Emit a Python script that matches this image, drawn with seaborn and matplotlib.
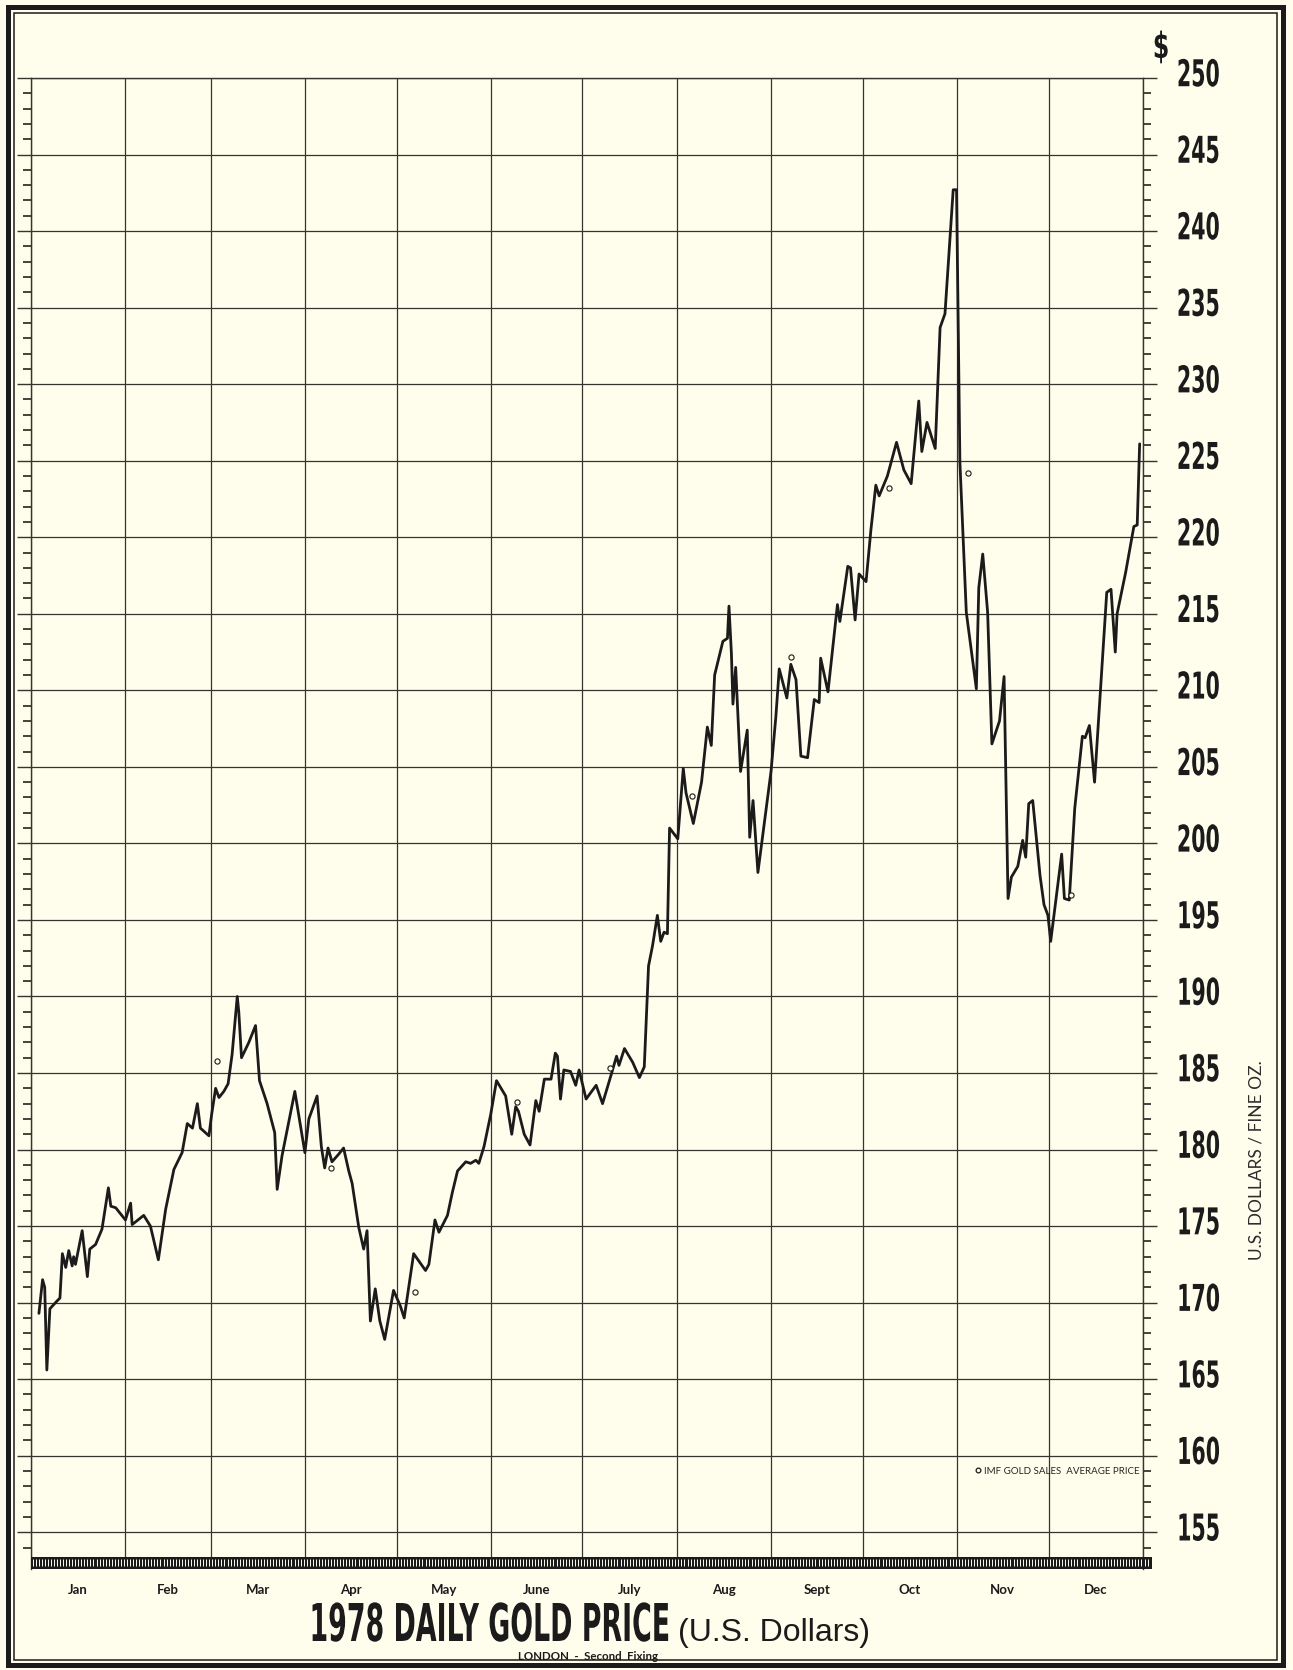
"""1978 daily gold price chart (London second fixing), redrawn with seaborn."""

import numpy as np
import pandas as pd
import matplotlib
matplotlib.use("Agg")
import matplotlib.pyplot as plt
import matplotlib.transforms as mtransforms
from matplotlib.patches import Rectangle
from matplotlib.lines import Line2D
from matplotlib.patheffects import AbstractPathEffect
import seaborn as sns

# ── Data (x = day of year 1978) ─────────────────────────────────────────────
day = [
    2.6, 3.8, 4.5, 5.2, 6.2, 8.5, 9.5, 10.3, 11.4, 12.4, 13.5, 14.0, 14.6,
    16.8, 18.5, 19.3, 21.2, 23.3, 25.4, 26.2, 27.8, 31.0, 32.7, 33.2, 37.0,
    39.2, 41.8, 44.2, 46.9, 49.6, 51.3, 53.0, 54.6, 55.6, 58.4, 59.3, 60.6,
    61.7, 63.3, 64.7, 66.0, 67.7, 68.2, 69.1, 71.5, 73.7, 75.0, 77.5, 80.0,
    80.8, 82.4, 86.6, 89.9, 91.2, 93.9, 95.3, 96.4, 97.5, 98.8, 101.0, 102.6,
    104.3, 105.4, 107.6, 109.2, 110.3, 111.4, 113.0, 114.5, 116.1, 119.0,
    121.2, 122.5, 125.6, 129.5, 130.6, 132.6, 133.9, 136.7, 138.3, 140.0,
    142.7, 144.3, 146.0, 147.0, 148.7, 150.9, 152.8, 155.8, 157.8, 159.1,
    160.0, 161.9, 163.8, 165.7, 166.8, 168.5, 170.7, 172.1, 172.8, 173.8,
    174.9, 177.1, 178.8, 179.9, 182.2, 185.5, 187.6, 190.3, 192.2, 193.0,
    194.8, 197.5, 199.7, 201.3, 202.7, 204.0, 205.6, 206.7, 207.8, 208.9,
    209.6, 212.3, 214.1, 215.0, 217.4, 220.1, 222.0, 223.3, 224.4, 227.1,
    228.6, 229.1, 229.9, 230.4, 231.3, 232.9, 235.1, 235.9, 237.0, 238.6,
    242.9, 244.5, 245.6, 248.1, 249.4, 251.1, 252.7, 254.9, 257.1, 258.7,
    259.2, 261.6, 264.7, 265.5, 268.1, 269.0, 270.5, 271.8, 274.1, 275.7,
    277.3, 278.4, 281.1, 284.1, 286.5, 288.9, 291.4, 292.4, 294.1, 296.8,
    298.4, 300.0, 302.7, 303.8, 304.9, 307.0, 310.3, 311.1, 312.4, 314.0,
    315.4, 317.9, 319.4, 320.7, 321.8, 323.9, 325.5, 326.5, 327.5, 328.8,
    331.2, 332.5, 333.8, 334.7, 338.3, 339.2, 340.8, 342.6, 345.1, 346.0,
    347.4, 349.1, 353.1, 354.5, 355.9, 356.5, 359.3, 362.0, 363.1, 363.9,
]
price = [
    169.3, 171.5, 171.0, 165.6, 169.6, 170.1, 170.3, 173.2, 172.3, 173.4, 172.4, 173.0, 172.5,
    174.7, 171.7, 173.5, 173.8, 174.8, 177.5, 176.3, 176.2, 175.4, 176.5, 175.1, 175.7,
    175.0, 172.8, 176.1, 178.7, 179.8, 181.7, 181.4, 183.0, 181.4, 180.9, 182.3, 184.0,
    183.4, 183.8, 184.3, 186.2, 190.0, 189.0, 186.0, 187.0, 188.1, 184.5, 183.0, 181.1,
    177.4, 179.6, 183.8, 179.8, 182.0, 183.5, 180.2, 178.8, 180.1, 179.2, 179.7, 180.1,
    178.6, 177.8, 174.9, 173.5, 174.7, 168.8, 170.9, 168.8, 167.6, 170.8,
    169.8, 169.0, 173.2, 172.1, 172.5, 175.4, 174.6, 175.7, 177.2, 178.6,
    179.2, 179.1, 179.3, 179.1, 180.2, 182.3, 184.5, 183.5, 181.0, 182.8,
    182.5, 181.0, 180.3, 183.2, 182.5, 184.6, 184.6, 186.3, 186.1, 183.3,
    185.2, 185.1, 184.2, 185.2, 183.3, 184.2, 183.0, 184.8, 186.1, 185.5,
    186.6, 185.7, 184.7, 185.4, 192.0, 193.3, 195.3, 193.6, 194.2, 194.1,
    201.0, 200.3, 204.9, 203.3, 201.3, 204.0, 207.6, 206.4, 211.0, 213.2,
    213.4, 215.5, 212.4, 209.1, 211.5, 204.7, 207.4, 200.4, 202.8, 198.1,
    204.7, 208.3, 211.4, 209.5, 211.7, 210.7, 205.7, 205.6, 209.4, 209.2,
    212.1, 209.9, 215.6, 214.5, 218.1, 218.0, 214.6, 217.6, 217.1, 220.5,
    223.4, 222.7, 224.0, 226.2, 224.4, 223.5, 228.9, 225.6, 227.5, 225.8,
    233.7, 234.6, 242.7, 242.7, 224.9, 215.1, 210.1, 216.7, 218.9, 215.1,
    206.5, 208.0, 210.9, 196.4, 197.8, 198.5, 200.2, 199.1, 202.6, 202.8,
    197.9, 196.0, 195.3, 193.6, 199.3, 196.4, 196.3, 202.3, 207.0, 206.9,
    207.7, 204.0, 216.4, 216.6, 212.5, 215.0, 217.7, 220.7, 220.8, 226.1,
]

# IMF gold sales, average price
imf_day = [61, 98.5, 126, 159.5, 190, 217, 249.5, 281.5, 307.5, 341.5]
imf_price = [185.8, 178.8, 170.7, 183.1, 185.3, 203.1, 212.2, 223.2, 224.2, 196.6]

month_start = [0, 31, 59, 90, 120, 151, 181, 212, 243, 273, 304, 334, 365]
month_names = ["Jan", "Feb", "Mar", "Apr", "May", "June",
               "July", "Aug", "Sept", "Oct", "Nov", "Dec"]
price_ticks = list(range(155, 251, 5))

# ── Style ─────────────────────────────────────────────────────────────────────
BG = "#fffdec"
INK = "#1b1b1b"
GRID = "#35352f"
BOLD = ["DejaVu Sans"]


class Squeeze(AbstractPathEffect):
    """Draw text glyphs condensed/stretched, like the old poster type."""

    def __init__(self, sx, sy=1.0, anchor=0.0):
        super().__init__()
        self.sx, self.sy, self.anchor = sx, sy, anchor

    def draw_path(self, renderer, gc, tpath, affine, rgbFace=None):
        ext = tpath.get_extents()
        x0 = ext.x0 + self.anchor * ext.width
        squeeze = (mtransforms.Affine2D().translate(-x0, 0)
                   .scale(self.sx, self.sy).translate(x0, 0))
        renderer.draw_path(gc, tpath, squeeze + affine, rgbFace)


sns.set_style("white")
plt.rcParams["font.family"] = ["Lato", "DejaVu Sans"]

W, H = 1293, 1670
fig = plt.figure(figsize=(W / 100, H / 100), dpi=100, facecolor=BG)
ax = fig.add_axes([31 / W, 101 / H, 1112 / W, 1491 / H], facecolor=BG)

df = pd.DataFrame({"day": day, "price": price})
sns.lineplot(data=df, x="day", y="price", ax=ax, color=INK,
             linewidth=2.0, estimator=None, zorder=3)
imf = pd.DataFrame({"day": imf_day, "price": imf_price})
sns.scatterplot(data=imf, x="day", y="price", ax=ax, marker="o", s=14,
                facecolor=BG, edgecolor=INK, linewidth=0.8, zorder=4)

ax.set_xlim(0, 365)
ax.set_ylim(152.6, 250)
ax.set_xlabel("")
ax.set_ylabel("")
for side in ("top", "left", "right"):
    ax.spines[side].set_color(GRID)
    ax.spines[side].set_linewidth(1.0)
ax.spines["bottom"].set_visible(False)

# months: boundaries as grid/ticks, names centred in between
mid = [(a + b) / 2 for a, b in zip(month_start[:-1], month_start[1:])]
ax.set_xticks(month_start)
ax.set_xticklabels([])
ax.set_xticks(mid, minor=True)
ax.set_xticklabels(month_names, minor=True)
ax.tick_params(axis="x", which="major", direction="out", length=10,
               width=1.0, color=GRID)
ax.tick_params(axis="x", which="minor", length=0, pad=11, labelsize=9.5)
plt.setp(ax.get_xticklabels(minor=True), fontweight="bold", color=INK)
ax.grid(axis="x", which="major", color=GRID, linewidth=0.9)

# dollars: labels on the right, $1 ticks on both sides
ax.set_yticks(price_ticks)
ax.set_yticks(np.arange(154, 250), minor=True)
ax.tick_params(axis="y", which="both", left=True, right=True,
               labelleft=False, labelright=True, direction="out", color=GRID)
ax.tick_params(axis="y", which="major", length=10, width=1.0, pad=14,
               labelsize=20)
ax.tick_params(axis="y", which="minor", length=6, width=1.3)
ax.grid(axis="y", which="major", color=GRID, linewidth=0.9)
lift = mtransforms.ScaledTranslation(0, 2 / 72, fig.dpi_scale_trans)
for lab in ax.get_yticklabels():
    lab.set_fontfamily(BOLD)
    lab.set_fontweight("bold")
    lab.set_color(INK)
    lab.set_transform(lab.get_transform() + lift)
    lab.set_path_effects([Squeeze(0.74, 1.33)])

# daily ruler along the bottom
ax.add_patch(Rectangle((0, 152.6), 368, 0.8, facecolor=INK,
                       edgecolor="none", clip_on=False, zorder=5))
ruler = [d + 0.5 for d in range(367)]
ax.vlines(ruler, 152.78, 153.24, colors=BG, linewidth=0.7,
          clip_on=False, zorder=6)

# legend for the IMF markers
handle = Line2D([], [], marker="o", ls="", mfc=BG, mec=INK, ms=3.4, mew=0.9)
ax.legend([handle], ["IMF GOLD SALES  AVERAGE PRICE"], loc="center right",
          bbox_to_anchor=(0.997, (159.0 - 152.6) / 97.4), frameon=False,
          fontsize=7, handletextpad=0.2, handlelength=0.8, borderpad=0,
          borderaxespad=0)

# ── Text around the plot ─────────────────────────────────────────────────────
dollar = fig.text(1161 / W, 1 - 58 / H, "$", family=BOLD, fontweight="bold",
                  fontsize=20, ha="center", va="baseline", color=INK)
dollar.set_path_effects([Squeeze(0.85, 1.3, 0.5)])
fig.text(1257 / W, 1 - 1160 / H, "U.S. DOLLARS / FINE OZ.", rotation=90,
         fontsize=12.5, ha="center", va="center", color="#2c2c2c")
title = fig.text(671 / W, 29 / H, "1978 DAILY GOLD PRICE", family=BOLD,
                 fontweight="bold", fontsize=28, ha="right", va="baseline",
                 color=INK)
title.set_path_effects([Squeeze(0.69, 1.34, 1.0)])
fig.text(678 / W, 29 / H, "(U.S. Dollars)", family=["Liberation Sans", "DejaVu Sans"],
         fontsize=23, ha="left", va="baseline", color=INK)
fig.text(588 / W, 14 / H, "LONDON  -  Second  Fixing", fontsize=8.3,
         fontweight="bold", ha="center", va="center", color=INK)

# double border round the sheet
fig.add_artist(Rectangle((7.5 / W, 5 / H), 1275 / W, 1658.5 / H,
                         transform=fig.transFigure, fill=False, lw=3.6, ec=INK))
fig.add_artist(Rectangle((13.5 / W, 10 / H), 1263 / W, 1647.5 / H,
                         transform=fig.transFigure, fill=False, lw=1.1, ec=INK))

fig.savefig("out.png", dpi=100, facecolor=BG)
plt.close(fig)
